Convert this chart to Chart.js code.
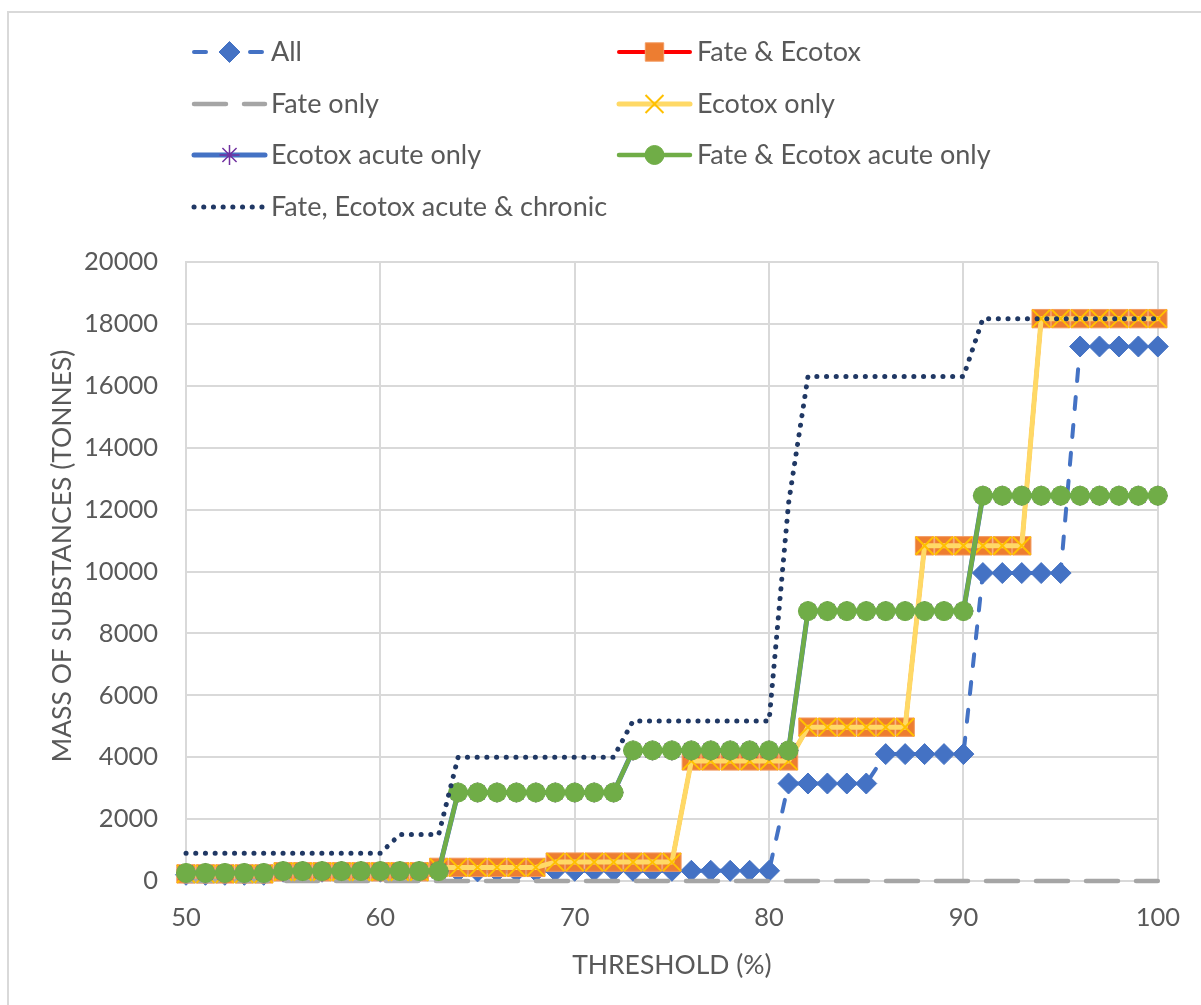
<!DOCTYPE html>
<html>
<head>
<meta charset="utf-8">
<script src="https://cdn.jsdelivr.net/npm/chart.js@4.4.1/dist/chart.umd.min.js"></script>
<style>
  html, body { margin: 0; padding: 0; background: #ffffff; }
  #wrap { position: relative; width: 1201px; height: 1005px; }
  canvas { display: block; }
</style>
</head>
<body>
<div id="wrap"><canvas id="chart" width="1201" height="1005"></canvas></div>
<script>
// Threshold (%) at which each mass was evaluated
const thresholds = [
  50, 51, 52, 53, 54, 55, 56, 57, 58, 59,
  60, 61, 62, 63, 64, 65, 66, 67, 68, 69,
  70, 71, 72, 73, 74, 75, 76, 77, 78, 79,
  80, 81, 82, 83, 84, 85, 86, 87, 88, 89,
  90, 91, 92, 93, 94, 95, 96, 97, 98, 99, 100
];

// Mass of substances (tonnes) per criterion set
const massAll = [
  200, 200, 200, 200, 200, 300, 300, 300, 300, 300,
  300, 300, 300, 300, 310, 310, 310, 310, 310, 330,
  330, 330, 330, 330, 330, 330, 330, 330, 330, 330,
  330, 3150, 3150, 3150, 3150, 3150, 4100, 4100, 4100, 4100,
  4100, 9950, 9950, 9950, 9950, 9950, 17270, 17270, 17270, 17270, 17270
];
const massFateEcotox = [
  230, 230, 230, 230, 230, 300, 300, 300, 300, 300,
  300, 300, 300, 440, 440, 440, 440, 440, 440, 610,
  610, 610, 610, 610, 610, 610, 3880, 3880, 3880, 3880,
  3880, 3880, 4970, 4970, 4970, 4970, 4970, 4970, 10830, 10830,
  10830, 10830, 10830, 10830, 18170, 18170, 18170, 18170, 18170, 18170, 18170
];
const massFateOnly = [
  0, 0, 0, 0, 0, 0, 0, 0, 0, 0,
  0, 0, 0, 0, 0, 0, 0, 0, 0, 0,
  0, 0, 0, 0, 0, 0, 0, 0, 0, 0,
  0, 0, 0, 0, 0, 0, 0, 0, 0, 0,
  0, 0, 0, 0, 0, 0, 0, 0, 0, 0, 0
];
const massEcotoxOnly = [
  230, 230, 230, 230, 230, 300, 300, 300, 300, 300,
  300, 300, 300, 440, 440, 440, 440, 440, 440, 610,
  610, 610, 610, 610, 610, 610, 3880, 3880, 3880, 3880,
  3880, 3880, 4970, 4970, 4970, 4970, 4970, 4970, 10830, 10830,
  10830, 10830, 10830, 10830, 18170, 18170, 18170, 18170, 18170, 18170, 18170
];
const massEcotoxAcuteOnly = [
  260, 260, 260, 260, 260, 320, 320, 320, 320, 320,
  320, 320, 320, 320, 2860, 2860, 2860, 2860, 2860, 2860,
  2860, 2860, 2860, 4220, 4220, 4220, 4220, 4220, 4220, 4220,
  4220, 4220, 8720, 8720, 8720, 8720, 8720, 8720, 8720, 8720,
  8720, 12450, 12450, 12450, 12450, 12450, 12450, 12450, 12450, 12450, 12450
];
const massFateEcotoxAcuteOnly = [
  260, 260, 260, 260, 260, 320, 320, 320, 320, 320,
  320, 320, 320, 320, 2860, 2860, 2860, 2860, 2860, 2860,
  2860, 2860, 2860, 4220, 4220, 4220, 4220, 4220, 4220, 4220,
  4220, 4220, 8720, 8720, 8720, 8720, 8720, 8720, 8720, 8720,
  8720, 12450, 12450, 12450, 12450, 12450, 12450, 12450, 12450, 12450, 12450
];
const massFateAcuteChronic = [
  900, 900, 900, 900, 900, 900, 900, 900, 900, 900,
  900, 1500, 1500, 1500, 4000, 4000, 4000, 4000, 4000, 4000,
  4000, 4000, 4000, 5170, 5170, 5170, 5170, 5170, 5170, 5170,
  5170, 12200, 16300, 16300, 16300, 16300, 16300, 16300, 16300, 16300,
  16300, 18170, 18170, 18170, 18170, 18170, 18170, 18170, 18170, 18170, 18170
];

const seriesLabels = [
  'All', 'Fate & Ecotox', 'Fate only', 'Ecotox only',
  'Ecotox acute only', 'Fate & Ecotox acute only', 'Fate, Ecotox acute & chronic'
];

const xTickStep = 10;
const yTickStep = 2000;
const yAxisTitle = 'MASS OF SUBSTANCES (TONNES)';
const xAxisTitle = 'THRESHOLD (%)';

const FONT = 'Lato, "Open Sans", sans-serif';
const TEXT = '#595959';
const GRID = '#D9D9D9';

const pts = arr => thresholds.map((t, i) => ({ x: t, y: arr[i] }));

const datasets = [
  { label: seriesLabels[0], data: pts(massAll), order: 6,
    borderColor: '#4472C4', borderWidth: 4, borderDash: [12, 16],
    pointStyle: 'rectRot', pointRadius: 10.5,
    pointBackgroundColor: '#4472C4', pointBorderColor: '#4472C4', pointBorderWidth: 1 },
  { label: seriesLabels[1], data: pts(massFateEcotox), order: 5,
    borderColor: '#FF0000', borderWidth: 4,
    pointStyle: 'rect', pointRadius: 13,
    pointBackgroundColor: '#ED7D31', pointBorderColor: '#F39A60', pointBorderWidth: 1 },
  { label: seriesLabels[2], data: pts(massFateOnly), order: 4,
    borderColor: '#A5A5A5', borderWidth: 4.5, borderDash: [32, 18],
    pointStyle: false, pointRadius: 0 },
  { label: seriesLabels[3], data: pts(massEcotoxOnly), order: 3,
    borderColor: '#FFD966', borderWidth: 5,
    pointStyle: 'crossRot', pointRadius: 12.7,
    pointBackgroundColor: '#FFC000', pointBorderColor: '#FFC000', pointBorderWidth: 2 },
  { label: seriesLabels[4], data: pts(massEcotoxAcuteOnly), order: 2,
    borderColor: '#4472C4', borderWidth: 5,
    pointStyle: 'star', pointRadius: 10,
    pointBackgroundColor: '#7030A0', pointBorderColor: '#7030A0', pointBorderWidth: 1.5 },
  { label: seriesLabels[5], data: pts(massFateEcotoxAcuteOnly), order: 1,
    borderColor: '#70AD47', borderWidth: 4.5,
    pointStyle: 'circle', pointRadius: 9.5,
    pointBackgroundColor: '#70AD47', pointBorderColor: '#70AD47', pointBorderWidth: 1 },
  { label: seriesLabels[6], data: pts(massFateAcuteChronic), order: 0,
    borderColor: '#203864', borderWidth: 5, borderDash: [0.1, 9.6],
    pointStyle: false, pointRadius: 0 }
];
datasets.forEach(d => {
  d.fill = false; d.tension = 0; d.clip = false;
  d.borderCapStyle = 'round'; d.borderJoinStyle = 'round';
  d.pointHoverRadius = d.pointRadius;
});

// Two-column legend, axis titles and outer frame drawn on the canvas
const decorations = {
  id: 'decorations',
  afterDraw(chart) {
    const ctx = chart.ctx;
    const area = chart.chartArea;

    // outer frame
    ctx.save();
    ctx.strokeStyle = GRID; ctx.lineWidth = 2;
    ctx.strokeRect(8, 12, 1300, 1100);
    ctx.restore();

    // legend
    const cols = [{ x0: 194, x1: 265, tx: 271 }, { x0: 619, x1: 690, tx: 697 }];
    const rows = [52, 104, 155, 207];
    chart.data.datasets.forEach((ds, i) => {
      const c = cols[i % 2], y = rows[Math.floor(i / 2)];
      ctx.save();
      ctx.strokeStyle = ds.borderColor; ctx.lineWidth = ds.borderWidth;
      ctx.setLineDash(ds.borderDash || []); ctx.lineCap = 'round';
      ctx.beginPath(); ctx.moveTo(c.x0, y); ctx.lineTo(c.x1, y); ctx.stroke();
      ctx.restore();
      if (ds.pointStyle) {
        ctx.save();
        ctx.fillStyle = ds.pointBackgroundColor;
        ctx.strokeStyle = ds.pointBorderColor;
        ctx.lineWidth = ds.pointBorderWidth;
        Chart.helpers.drawPoint(ctx, {
          pointStyle: ds.pointStyle, radius: ds.pointRadius,
          borderWidth: ds.pointBorderWidth, rotation: 0
        }, (c.x0 + c.x1) / 2, y);
        ctx.restore();
      }
      ctx.save();
      ctx.fillStyle = TEXT; ctx.font = '27px ' + FONT;
      ctx.textBaseline = 'middle'; ctx.textAlign = 'left';
      ctx.fillText(ds.label, c.tx, y);
      ctx.restore();
    });

    // axis titles
    ctx.save();
    ctx.fillStyle = TEXT; ctx.font = '26.5px ' + FONT;
    ctx.textAlign = 'center'; ctx.textBaseline = 'middle';
    ctx.fillText(xAxisTitle, (area.left + area.right) / 2, 965);
    ctx.translate(62, 556);
    ctx.rotate(-Math.PI / 2);
    ctx.fillText(yAxisTitle, 0, 0);
    ctx.restore();
  }
};

new Chart(document.getElementById('chart'), {
  type: 'line',
  data: { datasets },
  plugins: [decorations],
  options: {
    responsive: false,
    animation: false,
    devicePixelRatio: 1,
    events: [],
    layout: { padding: { top: 262, right: 41, left: 0, bottom: 0 } },
    plugins: { legend: { display: false }, tooltip: { enabled: false } },
    scales: {
      x: {
        type: 'linear', min: thresholds[0], max: thresholds[thresholds.length - 1],
        afterFit: s => { s.height = 124; },
        ticks: { stepSize: xTickStep, color: TEXT, padding: 21, font: { family: FONT, size: 25.5 } },
        grid: { color: GRID, lineWidth: 2, drawTicks: false },
        border: { color: GRID, width: 2 }
      },
      y: {
        min: 0, max: 20000,
        afterFit: s => { s.width = 186; },
        ticks: { stepSize: yTickStep, color: TEXT, padding: 28, font: { family: FONT, size: 25.5 },
                 callback: v => String(v) },
        grid: { color: GRID, lineWidth: 2, drawTicks: false },
        border: { color: GRID, width: 2 }
      }
    }
  }
});
</script>
</body>
</html>
